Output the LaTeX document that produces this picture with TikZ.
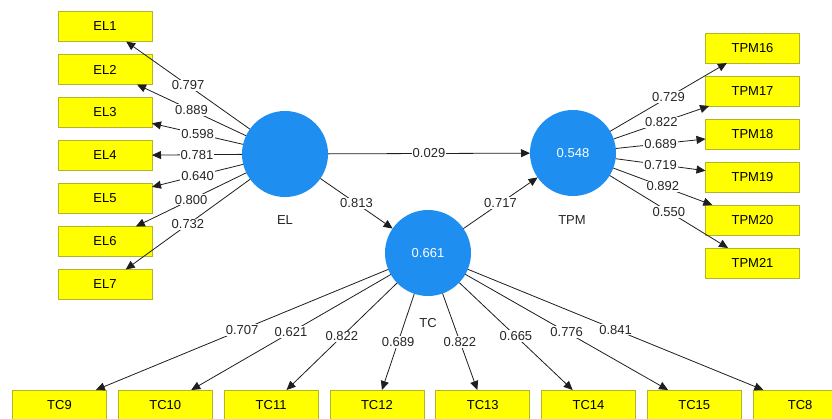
\documentclass[tikz,border=0pt]{standalone}
\usepackage{fontspec}
\setmainfont{Liberation Sans}
\usetikzlibrary{arrows.meta}
\definecolor{boxfill}{RGB}{255,255,0}
\definecolor{boxline}{RGB}{180,180,40}
\definecolor{lvfill}{RGB}{30,142,240}
\definecolor{edgec}{RGB}{30,30,30}
\tikzset{
  ind/.style={rectangle, draw=boxline, line width=0.6pt, fill=boxfill, minimum width=94pt, minimum height=30pt, inner sep=0pt, outer sep=0pt, font=\fontsize{13}{15}\selectfont},
  lv/.style={circle, fill=lvfill, minimum size=86pt, inner sep=0pt, outer sep=0pt, text=white, font=\fontsize{13}{15}\selectfont},
  lvname/.style={font=\fontsize{13}{15}\selectfont, text=black!85},
  arr/.style={draw=edgec, line width=0.8pt, -{Triangle[length=9pt,width=8pt]}},
  lbl/.style={fill=white, inner sep=1.2pt, font=\fontsize{13}{15}\selectfont, text=black!85}
}
\begin{document}
\begin{tikzpicture}[x=1pt,y=-1pt]
\useasboundingbox (0,0) rectangle (832,418);
\clip (0,0) rectangle (832,418);
\fill[white] (0,0) rectangle (832,418);
% latent variables
\node[lv] (EL) at (285,154) {};
\node[lv] (TC) at (428,253) {0.661};
\node[lv] (TPM) at (573,153) {0.548};
\node[lvname] (ELn) at (285,220) {EL};
\node[lvname] (TCn) at (428,323) {TC};
\node[lvname] (TPMn) at (572,220) {TPM};
% EL indicators
\foreach \i in {1,...,7} {
  \node[ind] (EL\i) at (105,{26.5+43*(\i-1)}) {EL\i};
}
% TPM indicators
\foreach \i/\k in {16/0,17/1,18/2,19/3,20/4,21/5} {
  \node[ind] (TPM\i) at (752.5,{48+43*\k}) {TPM\i};
}
% TC indicators
\foreach \n/\k in {TC9/0,TC10/1,TC11/2,TC12/3,TC13/4,TC14/5,TC15/6,TC8/7} {
  \node[ind] (\n) at ({59.5+105.8*\k},405) {\n};
}
% EL loadings
\draw[arr] (EL) -- node[lbl]{0.797} (EL1);
\draw[arr] (EL) -- node[lbl]{0.889} (EL2);
\draw[arr] (EL) -- node[lbl]{0.598} (EL3);
\draw[arr] (EL) -- node[lbl]{0.781} (EL4);
\draw[arr] (EL) -- node[lbl]{0.640} (EL5);
\draw[arr] (EL) -- node[lbl]{0.800} (EL6);
\draw[arr] (EL) -- node[lbl]{0.732} (EL7);
% TPM loadings
\draw[arr] (TPM) -- node[lbl]{0.729} (TPM16);
\draw[arr] (TPM) -- node[lbl]{0.822} (TPM17);
\draw[arr] (TPM) -- node[lbl]{0.689} (TPM18);
\draw[arr] (TPM) -- node[lbl]{0.719} (TPM19);
\draw[arr] (TPM) -- node[lbl]{0.892} (TPM20);
\draw[arr] (TPM) -- node[lbl]{0.550} (TPM21);
% TC loadings
\draw[arr] (TC) -- node[lbl]{0.707} (TC9);
\draw[arr] (TC) -- node[lbl]{0.621} (TC10);
\draw[arr] (TC) -- node[lbl]{0.822} (TC11);
\draw[arr] (TC) -- node[lbl]{0.689} (TC12);
\draw[arr] (TC) -- node[lbl]{0.822} (TC13);
\draw[arr] (TC) -- node[lbl]{0.665} (TC14);
\draw[arr] (TC) -- node[lbl]{0.776} (TC15);
\draw[arr] (TC) -- node[lbl]{0.841} (TC8);
% structural paths
\draw[arr] (EL) -- node[lbl]{0.029} (TPM);
\draw[arr] (EL) -- node[lbl]{0.813} (TC);
\draw[arr] (TC) -- node[lbl]{0.717} (TPM);
\end{tikzpicture}
\end{document}
